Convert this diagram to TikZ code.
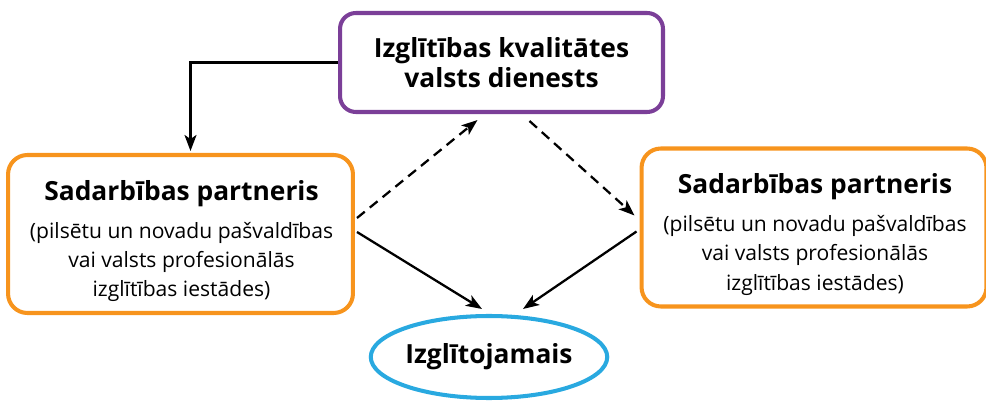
\documentclass[tikz,border=0pt]{standalone}
\usepackage{fontspec}
\setmainfont{Open Sans}
\usepackage{xcolor}
\usepackage{tikz}
\usetikzlibrary{shapes,arrows.meta,positioning,calc,shapes.geometric}
\definecolor{ikvdpurple}{RGB}{123,63,152}
\definecolor{partnerorange}{RGB}{247,148,29}
\definecolor{studentblue}{RGB}{41,169,224}
\newcommand{\partnertitle}[1]{{\fontsize{15}{18}\selectfont\bfseries #1}}

\begin{document}
\begin{tikzpicture}[
    x=0.02cm, y=-0.02cm,
    agency/.style={rectangle, draw=ikvdpurple, line width=2.3pt, rounded corners=9pt, minimum width=6.46cm, minimum height=1.98cm, align=center, font=\fontsize{15}{17.5}\selectfont\bfseries},
    partner/.style={rectangle, draw=partnerorange, line width=2.3pt, rounded corners=11pt, minimum width=6.9cm, minimum height=3.16cm},
    partnertext/.style={align=center, inner sep=0pt, font=\fontsize{12}{16.6}\selectfont},
    student/.style={ellipse, draw=studentblue, line width=2.3pt, minimum width=4.6cm, minimum height=1.64cm, inner sep=0pt, font=\fontsize{15}{18}\selectfont\bfseries},
    flow/.style={-{Stealth[length=0.32cm, width=0.24cm, inset=0.08cm]}, line width=1.3pt},
    link/.style={flow, dash pattern=on 0.2cm off 0.13cm}
]
    \useasboundingbox (0,0) rectangle (986,401);

    \node[agency] (ikvd) at (501.5,62.5) {Izglītības kvalitātes\\valsts dienests};

    \node[partner] (lp) at (180.5,234) {};
    \node[partnertext] (lptext) at ($(lp.center)+(1,7)$) {\partnertitle{Sadarbības partneris}\\[5pt](pilsētu un novadu pašvaldības\\vai valsts profesionālās\\izglītības iestādes)};

    \node[partner] (rp) at (814,227.5) {};
    \node[partnertext] (rptext) at ($(rp.center)+(1,7)$) {\partnertitle{Sadarbības partneris}\\[5pt](pilsētu un novadu pašvaldības\\vai valsts profesionālās\\izglītības iestādes)};

    \node[student] (stud) at (489,357) {Izglītojamais};

    % connections
    \draw[flow] (ikvd.west) -| ($(lp.north)+(10,-2)$);
    \draw[link] ($(lp.east)+(2,-16)$) -- ($(ikvd.south)+(-24,6)$);
    \draw[link] ($(ikvd.south)+(28,7)$) -- ($(rp.west)+(-5,-12)$);
    \draw[flow] ($(lp.east)+(2,-2)$) -- ($(stud.north)+(-7,-5)$);
    \draw[flow] ($(rp.west)+(-3,4)$) -- ($(stud.north)+(34,-5)$);
\end{tikzpicture}
\end{document}
